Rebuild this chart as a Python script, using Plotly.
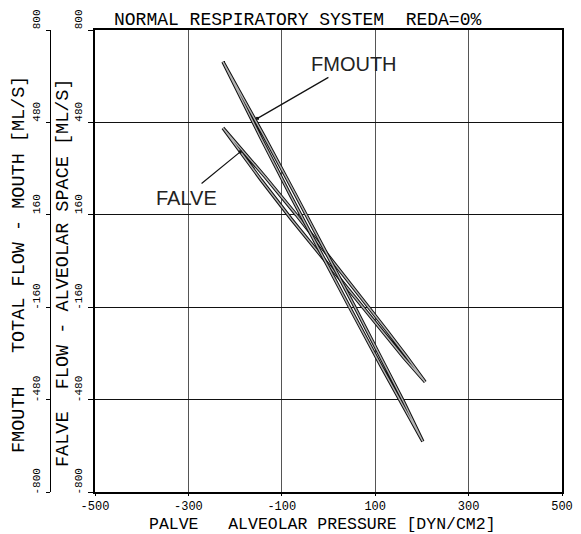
import plotly.graph_objects as go

# ---- data ----
fmouth_palve = [-226, -181, -137, -72, -7, 57, 120, 162, 202, 157, 113, 48, -17, -81, -144, -185, -226]
fmouth_flow = [690, 560, 430, 234, 37, -161, -359, -491, -625, -496, -365, -169, 28, 226, 424, 557, 690]
falve_palve = [-226, -180, -135, -69, -4, 60, 124, 166, 207, 161, 117, 51, -15, -80, -144, -185, -226]
falve_flow = [461, 376, 290, 160, 27, -105, -239, -328, -419, -334, -247, -117, 15, 146, 280, 370, 461]

x_ticks = [-500, -300, -100, 100, 300, 500]
x_tick_labels = ["-500", "-300", "-100", "100", "300", "500"]
y_ticks = [-800, -480, -160, 160, 480, 800]
y_tick_labels = ["-800", "-480", "-160", "160", "480", "800"]

title_text = "NORMAL RESPIRATORY SYSTEM  REDA=0%"
x_title = "PALVE   ALVEOLAR PRESSURE [DYN/CM2]"
y_outer_title = "FMOUTH   TOTAL FLOW - MOUTH [ML/S]"
y_inner_title = "FALVE  FLOW - ALVEOLAR SPACE [ML/S]"

labels = ["FMOUTH", "FALVE"]
label_pos = [(55, 684), (-305, 219)]
arrow_start = [(3, 639), (-275, 264)]
arrow_end = [(-152, 494), (-189, 378)]

# ---- figure (page body adds an 8px offset, compensate) ----
OFF = 8
W, H = 581 - OFF, 534 - OFF
ML, MR, MT, MB = 2, 19, 30 - OFF, 42
PW = W - ML - MR
PH = H - MT - MB


def paper_x(px):
    return (px - OFF - ML) / PW


def paper_y(py):
    return (H - MB - (py - OFF)) / PH


fig = go.Figure()

for xs, ys, yax in [(fmouth_palve, fmouth_flow, "y2"), (falve_palve, falve_flow, "y")]:
    fig.add_trace(go.Scatter(x=xs, y=ys, mode="lines", yaxis=yax,
                             line=dict(color="#111111", width=3.4), hoverinfo="skip",
                             showlegend=False))
    fig.add_trace(go.Scatter(x=xs, y=ys, mode="lines", yaxis=yax,
                             line=dict(color="#b4b4b4", width=1.4), hoverinfo="skip",
                             showlegend=False))

mono = "Liberation Mono"
tickfont = dict(family=mono, size=11, color="black")

fig.update_layout(
    width=W, height=H,
    margin=dict(l=ML, r=MR, t=MT, b=MB, autoexpand=False),
    paper_bgcolor="white", plot_bgcolor="white",
    xaxis=dict(domain=[paper_x(95), 1], range=[-500, 500], tickvals=x_ticks, ticktext=x_tick_labels,
               automargin=False,
               showgrid=True, gridcolor="#555555", gridwidth=1, zeroline=False,
               showline=True, linecolor="black", linewidth=1.5, mirror=True,
               ticks="outside", ticklen=2, tickcolor="black", ticklabelstandoff=0,
               tickfont=dict(family=mono, size=12, color="black")),
    yaxis=dict(range=[-800, 800], tickvals=y_ticks, ticktext=y_tick_labels, automargin=False,
               showgrid=True, gridcolor="#111111", gridwidth=1.3, zeroline=False,
               showline=True, linecolor="black", linewidth=1.5, mirror=True,
               ticks="outside", ticklen=5, tickcolor="black",
               tickangle=-90, ticklabelshift=-9, ticklabelstandoff=2, tickfont=tickfont),
    yaxis2=dict(range=[-800, 800], tickvals=y_ticks, ticktext=y_tick_labels, automargin=False,
                overlaying="y", anchor="free", position=paper_x(50), side="left",
                showgrid=False, zeroline=False,
                showline=True, linecolor="black", linewidth=1.2,
                ticks="outside", ticklen=4, tickcolor="black",
                tickangle=-90, ticklabelshift=-9, ticklabelstandoff=2, tickfont=tickfont),
)

ann = []
common = dict(xref="paper", yref="paper", xanchor="center", yanchor="middle", showarrow=False)
ann.append(dict(text=title_text, x=paper_x(297.5), y=paper_y(20),
                font=dict(family=mono, size=18, color="black"), **common))
ann.append(dict(text=x_title, x=paper_x(322.5), y=paper_y(524.5),
                font=dict(family=mono, size=16.5, color="black"), **common))
ann.append(dict(text=y_outer_title, x=paper_x(19), y=paper_y(265), textangle=-90,
                font=dict(family=mono, size=18.5, color="black"), **common))
ann.append(dict(text=y_inner_title, x=paper_x(63), y=paper_y(273), textangle=-90,
                font=dict(family=mono, size=18.5, color="black"), **common))
for lab, (lx, ly), (sx, sy), (ex, ey) in zip(labels, label_pos, arrow_start, arrow_end):
    ann.append(dict(text=lab, x=lx, y=ly, xref="x", yref="y", showarrow=False,
                    xanchor="center", yanchor="middle",
                    font=dict(family="Liberation Sans", size=20, color="#222222")))
    ann.append(dict(text="", x=ex, y=ey, xref="x", yref="y", ax=sx, ay=sy, axref="x", ayref="y",
                    showarrow=True, arrowhead=7, arrowsize=0.6, arrowwidth=1.2, arrowcolor="#111111"))
fig.update_layout(annotations=ann)

fig.write_html("out.html")
